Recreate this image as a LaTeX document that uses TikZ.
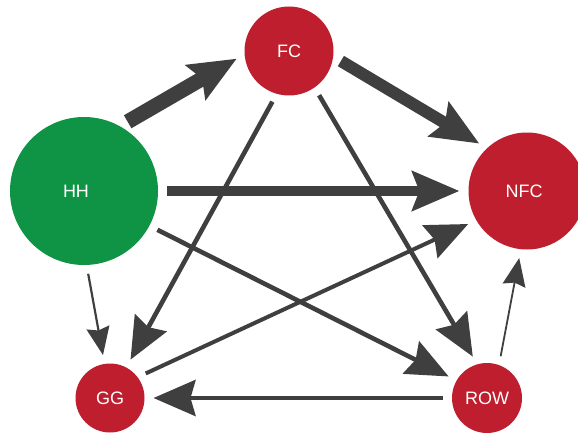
\documentclass[tikz,border=0pt]{standalone}
\usepackage{fontspec}
\setsansfont{Liberation Sans}
\usetikzlibrary{arrows.meta}
\definecolor{sectorred}{HTML}{BE1E2D}
\definecolor{sectorgreen}{HTML}{0E9444}
\definecolor{flowgray}{HTML}{3F3F3F}

\begin{document}
\begin{tikzpicture}[x=1pt,y=1pt,
	sector/.style={circle,fill=sectorred,text=white,inner sep=0pt,outer sep=0pt,font=\sffamily\fontsize{18}{21}\selectfont},
	flow/.style={color=flowgray,shorten <=9pt,shorten >=9pt},
	heavy/.style={flow,-{Stealth[length=47pt,width=39pt,inset=7pt]}},
	medium/.style={flow,line width=4.6pt,-{Stealth[length=42pt,width=36pt,inset=5pt]}},
	light/.style={flow,line width=2.2pt,-{Stealth[length=28pt,width=23pt,inset=3pt]}}]
	\useasboundingbox (0,0) rectangle (578,432);
	%\draw (0,0) rectangle (578,432);
	\node[sector,fill=sectorgreen,minimum size=148pt] (HH) at (84,241) {\hspace*{-16pt}HH};
	\node[sector,minimum size=89pt] (FC) at (289,381) {FC};
	\node[sector,minimum size=117pt] (NFC) at (527,241) {\hspace*{-6pt}NFC};
	\node[sector,minimum size=69pt] (GG) at (110,34) {GG};
	\node[sector,minimum size=70pt] (ROW) at (487,34) {ROW};
	\draw[heavy,line width=15pt] (HH.61) -- (FC.184);
	\draw[heavy,line width=12pt] (FC.-7) -- (NFC.133);
	\draw[heavy,line width=10pt] (HH.0) -- (NFC.180);
	\draw[medium] (FC.-106) -- (GG.62);
	\draw[medium] (FC.-55) -- (ROW.106);
	\draw[medium] (HH.-28) -- (ROW.150);
	\draw[medium,line width=4pt] (GG.37) -- (NFC.210);
	\draw[medium] (ROW.180) -- (GG.0);
	\draw[light] (HH.-88) -- (GG.99);
	\draw[light,line width=1.8pt] (ROW.70) -- (NFC.-96);
\end{tikzpicture}
\end{document}
